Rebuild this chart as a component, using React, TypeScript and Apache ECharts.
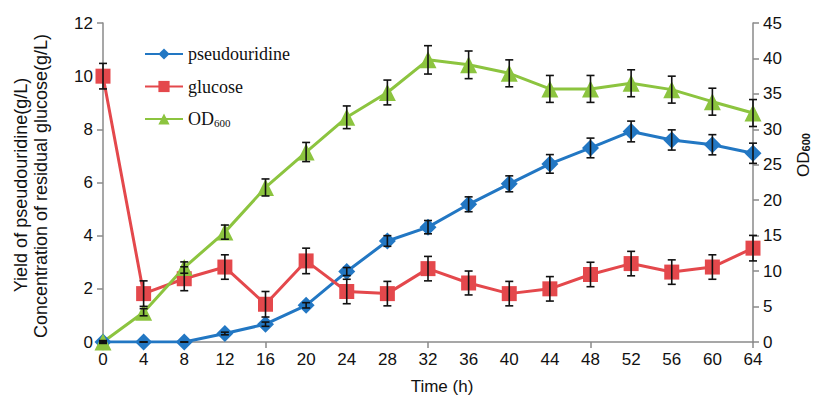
import React, { useEffect, useRef } from "react";
import * as echarts from "echarts";

const categories = ["0","4","8","12","16","20","24","28","32","36","40","44","48","52","56","60","64"];
const pseudouridine = [0, 0, 0, 0.32, 0.67, 1.38, 2.65, 3.8, 4.32, 5.18, 5.95, 6.7, 7.3, 7.92, 7.6, 7.42, 7.1];
const pseudouridineErr = [0, 0, 0, 0.05, 0.08, 0.1, 0.15, 0.2, 0.25, 0.28, 0.3, 0.35, 0.37, 0.39, 0.38, 0.38, 0.38];
const glucose = [10.0, 1.82, 2.38, 2.82, 1.42, 3.05, 1.9, 1.82, 2.76, 2.22, 1.82, 2.0, 2.54, 2.95, 2.63, 2.82, 3.53];
const glucoseErr = [0.48, 0.48, 0.45, 0.46, 0.48, 0.48, 0.46, 0.46, 0.46, 0.45, 0.46, 0.46, 0.46, 0.46, 0.46, 0.46, 0.48];
const od600 = [0, 4.2, 10.5, 15.5, 21.8, 26.8, 31.7, 35.2, 39.8, 39.1, 37.9, 35.7, 35.7, 36.5, 35.6, 33.9, 32.3];
const od600Err = [0.2, 0.5, 0.8, 1.0, 1.2, 1.35, 1.6, 1.75, 2.0, 1.95, 1.9, 1.9, 1.9, 1.9, 1.9, 1.9, 1.9];

const leftTicks = { min: 0, max: 12, interval: 2 };
const rightTicks = { min: 0, max: 45, interval: 5 };

const BLUE = "#2277c3";
const RED = "#e4484c";
const GREEN = "#8cc43f";
const AXIS = "#8a8a8a";
const SANS = "Liberation Sans, Arial, sans-serif";
const SERIF = "Liberation Serif, Times New Roman, serif";

function errSeries(values: number[], errs: number[], yAxisIndex: number) {
  return {
    type: "custom",
    yAxisIndex,
    z: 10,
    silent: true,
    data: values.map((v, i) => [i, v, errs[i]]),
    encode: { x: 0, y: 1 },
    renderItem: (params: any, api: any) => {
      const x = api.value(0);
      const y = api.value(1);
      const e = api.value(2);
      const top = api.coord([x, y + e]);
      const bot = api.coord([x, y - e]);
      const w = 4;
      const style = { stroke: "#111", lineWidth: 1.6 };
      return {
        type: "group",
        children: [
          { type: "line", shape: { x1: top[0], y1: top[1], x2: bot[0], y2: bot[1] }, style },
          { type: "line", shape: { x1: top[0] - w, y1: top[1], x2: top[0] + w, y2: top[1] }, style },
          { type: "line", shape: { x1: bot[0] - w, y1: bot[1], x2: bot[0] + w, y2: bot[1] }, style },
        ],
      };
    },
  };
}

export default function App() {
  const ref = useRef<HTMLDivElement>(null);
  useEffect(() => {
    document.body.style.margin = "0";
    const chart = echarts.init(ref.current!, null, { renderer: "svg" });
    const axisLabel = { fontFamily: SANS, fontSize: 17, color: "#111" };
    chart.setOption({
      animation: false,
      backgroundColor: "#fff",
      grid: { left: 103, right: 60, top: 23, bottom: 59 },
      legend: {
        orient: "vertical",
        left: 139,
        top: 40,
        itemWidth: 38,
        itemHeight: 14,
        itemGap: 14.5,
        data: ["pseudouridine", "glucose", "OD600"],
        formatter: (name: string) => (name === "OD600" ? "{a|OD}{s|600}" : name),
        textStyle: {
          fontFamily: SERIF,
          fontSize: 18,
          color: "#111",
          rich: {
            a: { fontFamily: SERIF, fontSize: 18, color: "#111" },
            s: { fontFamily: SERIF, fontSize: 11, color: "#111", verticalAlign: "bottom", padding: [6, 0, 0, 0] },
          },
        },
      },
      xAxis: {
        type: "category",
        data: categories,
        boundaryGap: false,
        axisLine: { lineStyle: { color: AXIS, width: 1.5 } },
        axisTick: { interval: 3, length: 6, lineStyle: { color: AXIS, width: 1.5 } },
        axisLabel: { ...axisLabel, margin: 9, interval: 0 },
        splitLine: { show: false },
      },
      yAxis: [
        {
          type: "value",
          ...leftTicks,
          axisLine: { show: true, lineStyle: { color: AXIS, width: 1.5 } },
          axisTick: { show: true, length: 6, lineStyle: { color: AXIS, width: 1.5 } },
          axisLabel: { ...axisLabel, margin: 10 },
          splitLine: { show: false },
        },
        {
          type: "value",
          ...rightTicks,
          position: "right",
          axisLine: { show: true, lineStyle: { color: AXIS, width: 1.5 } },
          axisTick: { show: true, length: 6, lineStyle: { color: AXIS, width: 1.5 } },
          axisLabel: { ...axisLabel, margin: 10 },
          splitLine: { show: false },
        },
      ],
      graphic: [
        {
          type: "text",
          x: 21,
          y: 185,
          rotation: Math.PI / 2,
          style: { text: "Yield of pseudouridine(g/L)", font: `18px ${SANS}`, fill: "#111", align: "center", verticalAlign: "middle" },
        },
        {
          type: "text",
          x: 41,
          y: 186,
          rotation: Math.PI / 2,
          style: { text: "Concentration of residual glucose(g/L)", font: `18px ${SANS}`, fill: "#111", align: "center", verticalAlign: "middle" },
        },
        {
          type: "text",
          x: 442,
          y: 386,
          style: { text: "Time (h)", font: `17px ${SANS}`, fill: "#111", align: "center", verticalAlign: "middle" },
        },
        {
          type: "text",
          x: 803,
          y: 155,
          rotation: Math.PI / 2,
          style: {
            text: "{a|OD}{s|600}",
            align: "center",
            verticalAlign: "middle",
            rich: {
              a: { fontFamily: SANS, fontSize: 17, fill: "#111" },
              s: { fontFamily: SANS, fontSize: 11, fontWeight: "bold", fill: "#111", verticalAlign: "bottom", padding: [6, 0, 0, 0] },
            },
          },
        },
      ],
      series: [
        {
          name: "pseudouridine",
          type: "line",
          data: pseudouridine,
          yAxisIndex: 0,
          symbol: "diamond",
          symbolSize: 17,
          lineStyle: { color: BLUE, width: 3 },
          itemStyle: { color: BLUE },
          z: 3,
        },
        {
          name: "glucose",
          type: "line",
          data: glucose,
          yAxisIndex: 0,
          symbol: "rect",
          symbolSize: 15,
          lineStyle: { color: RED, width: 3 },
          itemStyle: { color: RED },
          z: 3,
        },
        {
          name: "OD600",
          type: "line",
          data: od600,
          yAxisIndex: 1,
          symbol: "triangle",
          symbolSize: 17,
          lineStyle: { color: GREEN, width: 3 },
          itemStyle: { color: GREEN },
          z: 3,
        },
        errSeries(pseudouridine, pseudouridineErr, 0),
        errSeries(glucose, glucoseErr, 0),
        errSeries(od600, od600Err, 1),
      ],
    });
    return () => chart.dispose();
  }, []);
  return <div ref={ref} style={{ width: 813, height: 401 }} />;
}
